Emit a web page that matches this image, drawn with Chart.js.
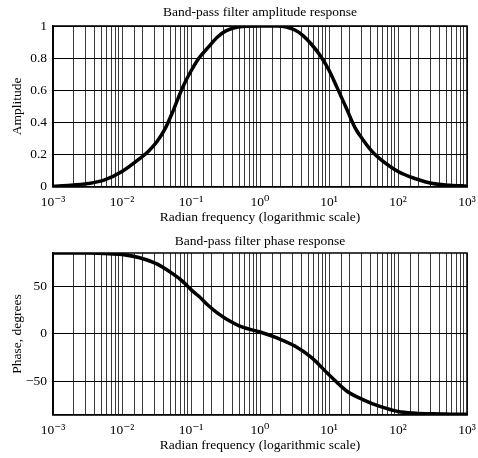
<!DOCTYPE html>
<html>
<head>
<meta charset="utf-8">
<script src="https://cdn.jsdelivr.net/npm/chart.js@4.4.1/dist/chart.umd.min.js"></script>
<style>
  body { margin: 0; background: #fff; }
  .box { position: absolute; left: 0; width: 478px; height: 229px; }
</style>
</head>
<body>
<div class="box" style="top:0"><canvas id="graficoAmplitude" width="478" height="229"></canvas></div>
<div class="box" style="top:229px"><canvas id="graficoFase" width="478" height="229"></canvas></div>
<script>
// valores (frequencia em rad/s)
const freqAmplitude = [0.001, 0.0018, 0.0032, 0.0056, 0.01, 0.018, 0.024, 0.032, 0.042, 0.056, 0.075, 0.1, 0.13, 0.18, 0.24, 0.32, 0.56, 1,
  1.8, 3.2, 4.2, 5.6, 7.5, 10, 13, 18, 24, 32, 42, 56, 100, 180, 320, 560, 1000];
const amplitude = [0.004, 0.009, 0.02, 0.043, 0.095, 0.175, 0.22, 0.28, 0.36, 0.48, 0.615, 0.72, 0.8, 0.87, 0.93, 0.97, 0.997, 1,
  1, 0.975, 0.94, 0.885, 0.815, 0.725, 0.62, 0.485, 0.365, 0.285, 0.22, 0.17, 0.095, 0.05, 0.02, 0.01, 0.004];

const freqFase = [0.001, 0.0018, 0.0032, 0.0056, 0.01, 0.018, 0.032, 0.056, 0.075, 0.1, 0.13, 0.18, 0.24, 0.32, 0.56, 1,
  1.8, 3.2, 5.6, 10, 18, 32, 56, 100, 180, 320, 560, 1000];
const fase = [85, 85, 85, 84.5, 83.5, 80, 73.5, 62.5, 55.5, 46.5, 39.5, 29.5, 22, 16, 7, 2,
  -4.5, -12.8, -25, -43, -60, -69.5, -76.5, -81.5, -83.3, -84, -84.3, -84.5];

const rotulosX = ["10⁻³", "10⁻²", "10⁻¹", "10⁰", "10¹", "10²", "10³"];
const ticksAmplitude = [0, 0.2, 0.4, 0.6, 0.8, 1];
const ticksFase = [-50, 0, 50];

const fonte = { family: "'Liberation Serif', 'DejaVu Serif', serif", size: 13.5 };

function rotuloLog(valor) {
  const e = Math.log10(valor);
  if (Math.abs(e - Math.round(e)) < 1e-6) return rotulosX[Math.round(e) + 3];
  return "";
}

function rotuloY(valor) {
  return valor < 0 ? "\u2212" + Math.abs(valor) : String(valor);
}

// titulo, titulo do eixo x e moldura, alinhados com a area do grafico
const textos = {
  id: "textos",
  afterDraw(grafico, args, opcoes) {
    const { ctx, chartArea: a } = grafico;
    const meio = (a.left + a.right) / 2;
    ctx.save();
    ctx.fillStyle = "#000";
    ctx.font = fonte.size + "px " + fonte.family;
    ctx.textAlign = "center";
    ctx.textBaseline = "middle";
    ctx.fillText(opcoes.titulo, meio, opcoes.yTitulo);
    ctx.fillText(opcoes.tituloX, meio, a.bottom + 31);
    ctx.strokeStyle = "#000";
    ctx.lineWidth = 1.5;
    ctx.strokeRect(a.left, a.top, a.right - a.left, a.bottom - a.top);
    ctx.restore();
  },
};
Chart.register(textos);

function criaGrafico(canvas, titulo, tituloY, freqs, valores, yMin, yMax, yTicks, topo, baixo) {
  return new Chart(canvas, {
    type: "line",
    data: {
      datasets: [
        {
          data: freqs.map((f, i) => ({ x: f, y: valores[i] })),
          borderColor: "#000",
          borderWidth: 3.5,
          pointRadius: 0,
          cubicInterpolationMode: "monotone",
        },
      ],
    },
    options: {
      responsive: false,
      animation: false,
      layout: { padding: { left: 0, right: 11, top: topo, bottom: baixo } },
      plugins: {
        legend: { display: false },
        tooltip: { enabled: false },
        title: { display: false },
        textos: { titulo: titulo, yTitulo: 12, tituloX: "Radian frequency (logarithmic scale)" },
      },
      scales: {
        x: {
          type: "logarithmic",
          min: 0.001,
          max: 1000,
          afterFit: (escala) => {
            escala.paddingLeft = 0;
            escala.paddingRight = 0;
          },
          grid: { color: "#3a3a3a", lineWidth: 1, drawTicks: false },
          border: { color: "#000", width: 1.5 },
          ticks: {
            autoSkip: false,
            maxRotation: 0,
            color: "#000",
            font: fonte,
            padding: 8,
            callback: rotuloLog,
          },
        },
        y: {
          min: yMin,
          max: yMax,
          afterBuildTicks: (escala) => {
            escala.ticks = yTicks.map((v) => ({ value: v }));
          },
          afterFit: (escala) => {
            escala.width = 53;
          },
          grid: { color: "#000", lineWidth: 1, drawTicks: false },
          border: { color: "#000", width: 1.5 },
          ticks: { color: "#000", font: fonte, padding: 6, callback: rotuloY },
          title: {
            display: true,
            text: tituloY,
            color: "#000",
            font: fonte,
            padding: { top: 9, bottom: 0 },
          },
        },
      },
    },
  });
}

criaGrafico(document.getElementById("graficoAmplitude"), "Band-pass filter amplitude response", "Amplitude",
  freqAmplitude, amplitude, 0, 1, ticksAmplitude, 26, 10);
criaGrafico(document.getElementById("graficoFase"), "Band-pass filter phase response", "Phase, degrees",
  freqFase, fase, -85, 85, ticksFase, 24, 11);
</script>
</body>
</html>
